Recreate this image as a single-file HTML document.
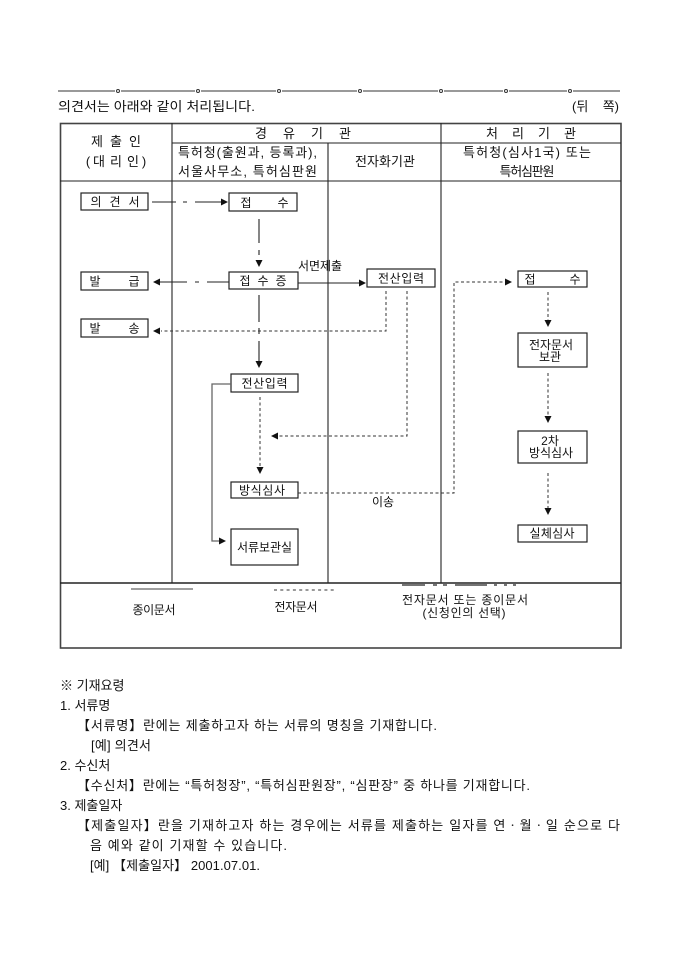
<!DOCTYPE html>
<html><head><meta charset="utf-8">
<style>
html,body{margin:0;padding:0;background:#fff;}
svg{display:block;}
text{font-family:"Liberation Sans","Noto Sans CJK KR","NanumGothic",sans-serif;fill:#111;}
</style></head>
<body>
<svg width="680" height="962" viewBox="0 0 680 962" xmlns="http://www.w3.org/2000/svg">
<rect width="680" height="962" fill="#fff"/>

<!-- top cut line -->
<g stroke="#333" stroke-width="1" fill="none">
<path d="M58 91H115M121 91H195M201 91H276M282 91H357M363 91H438M444 91H503M509 91H567M573 91H620"/>
<circle cx="118" cy="91" r="1.5"/><circle cx="198" cy="91" r="1.5"/><circle cx="279" cy="91" r="1.5"/>
<circle cx="360" cy="91" r="1.5"/><circle cx="441" cy="91" r="1.5"/><circle cx="506" cy="91" r="1.5"/><circle cx="570" cy="91" r="1.5"/>
</g>

<text x="58" y="111" font-size="13" textLength="197" lengthAdjust="spacingAndGlyphs">의견서는 아래와 같이 처리됩니다.</text>
<text x="572" y="111" font-size="13">(뒤</text>
<text x="619" y="111" font-size="13" text-anchor="end">쪽)</text>

<!-- table -->
<rect x="60.5" y="123.5" width="560.5" height="524.5" fill="none" stroke="#444" stroke-width="1.6"/>
<g stroke="#222" stroke-width="1.1">
<path d="M172 123V583"/>
<path d="M441 123V583"/>
<path d="M328 143V583"/>
<path d="M172 143H621"/>
<path d="M60 181H621"/>
<path d="M60 583H621" stroke-width="1.4"/>
</g>

<!-- headers -->
<g font-size="13" text-anchor="middle">
<text x="97" y="146">제</text><text x="116" y="146">출</text><text x="135" y="146">인</text>
<text x="88" y="166">(</text><text x="99" y="166">대</text><text x="116" y="166">리</text><text x="133" y="166">인</text><text x="144" y="166">)</text>
<text x="261" y="138">경</text><text x="289" y="138">유</text><text x="317" y="138">기</text><text x="345" y="138">관</text>
<text x="492" y="138">처</text><text x="518" y="138">리</text><text x="544" y="138">기</text><text x="570" y="138">관</text>
<text x="385" y="166" textLength="60">전자화기관</text>
<text x="527" y="157" textLength="128">특허청(심사1국) 또는</text>
<text x="527" y="176" textLength="55">특허심판원</text>
</g>
<text x="178" y="157" font-size="13" textLength="139">특허청(출원과, 등록과),</text>
<text x="178" y="176" font-size="13" textLength="139">서울사무소, 특허심판원</text>

<!-- boxes -->
<g fill="#fff" stroke="#222" stroke-width="1.2">
<rect x="81" y="193" width="67" height="17"/>
<rect x="229" y="193" width="68" height="18"/>
<rect x="229" y="272" width="69" height="17"/>
<rect x="81" y="272" width="67" height="18"/>
<rect x="81" y="319" width="67" height="18"/>
<rect x="367" y="269" width="68" height="18"/>
<rect x="231" y="374" width="67" height="18"/>
<rect x="231" y="482" width="67" height="16"/>
<rect x="231" y="529" width="67" height="36"/>
<rect x="518" y="271" width="69" height="16"/>
<rect x="518" y="333" width="69" height="34"/>
<rect x="518" y="431" width="69" height="32"/>
<rect x="518" y="525" width="69" height="17"/>
</g>

<!-- box labels -->
<g font-size="12" text-anchor="middle">
<text x="96" y="206">의</text><text x="115" y="206">견</text><text x="134" y="206">서</text>
<text x="246" y="207">접</text><text x="283" y="207">수</text>
<text x="245" y="285">접</text><text x="263" y="285">수</text><text x="281" y="285">증</text>
<text x="95" y="285.5">발</text><text x="134" y="285.5">급</text>
<text x="95" y="332.5">발</text><text x="134" y="332.5">송</text>
<text x="401" y="282.5" textLength="46">전산입력</text>
<text x="264.5" y="387.5" textLength="46">전산입력</text>
<text x="262" y="494.5" textLength="46">방식심사</text>
<text x="264.5" y="551.5" textLength="55">서류보관실</text>
<text x="530" y="283.5">접</text><text x="575" y="283.5">수</text>
<text x="551" y="349" textLength="44">전자문서</text>
<text x="550" y="361" textLength="22">보관</text>
<text x="550" y="445">2차</text>
<text x="551" y="457" textLength="44">방식심사</text>
<text x="552" y="537.5" textLength="45">실체심사</text>
<text x="298" y="270" font-size="12" text-anchor="start" textLength="44">서면제출</text>
<text x="383" y="506">이송</text>
</g>

<!-- solid / dash-dot connectors -->
<g stroke="#222" stroke-width="1.1" fill="none">
<path d="M152 202H176M183 202H187M195 202H221"/>
<path d="M259 219V243M259 250V255"/>
<path d="M160 282H187M195 282H199M207 282H229"/>
<path d="M298 283H359"/>
<path d="M259 295V322M259 328V334M259 341V361"/>
</g>
<path d="M231 384H212V541H219" stroke="#666" stroke-width="1.3" fill="none"/>

<!-- dotted connectors -->
<g stroke="#333" stroke-width="1" fill="none" stroke-dasharray="3 2.5">
<path d="M386 291V331H161"/>
<path d="M407 291V436H278"/>
<path d="M260 397V467"/>
<path d="M298 493H454V282H505"/>
<path d="M548 292V320"/>
<path d="M548 373V416"/>
<path d="M548 473V508"/>
</g>

<!-- arrowheads -->
<g fill="#111">
<polygon points="228,202 221,198.5 221,205.5"/>
<polygon points="259,267 255.5,260 262.5,260"/>
<polygon points="153,282 160,278.5 160,285.5"/>
<polygon points="366,283 359,279.5 359,286.5"/>
<polygon points="259,368 255.5,361 262.5,361"/>
<polygon points="153,331 160,327.5 160,334.5"/>
<polygon points="271,436 278,432.5 278,439.5"/>
<polygon points="260,474 256.5,467 263.5,467"/>
<polygon points="512,282 505,278.5 505,285.5"/>
<polygon points="548,327 544.5,320 551.5,320"/>
<polygon points="548,423 544.5,416 551.5,416"/>
<polygon points="548,515 544.5,508 551.5,508"/>
<polygon points="226,541 219,537.5 219,544.5"/>
</g>

<!-- legend -->
<path d="M131 589H193" stroke="#666" stroke-width="1.3"/>
<path d="M274 590H337" stroke="#333" stroke-width="1" stroke-dasharray="3 3.3"/>
<path d="M402 585H425M433 585H437M443 585H447M455 585H487M494 585H497M504 585H507M513 585H516" stroke="#222" stroke-width="1.3"/>
<g font-size="12" text-anchor="middle">
<text x="154" y="614" textLength="43">종이문서</text>
<text x="296" y="611" textLength="43">전자문서</text>
<text x="465" y="604" textLength="126">전자문서 또는 종이문서</text>
<text x="464" y="617" textLength="83">(신청인의 선택)</text>
</g>

<!-- instructions -->
<g font-size="13">
<text x="60" y="690">※ 기재요령</text>
<text x="60" y="710">1. 서류명</text>
<text x="77" y="730" textLength="360">【서류명】란에는 제출하고자 하는 서류의 명칭을 기재합니다.</text>
<text x="91" y="750" textLength="60">[예] 의견서</text>
<text x="60" y="770">2. 수신처</text>
<text x="77" y="790" textLength="453">【수신처】란에는 “특허청장”, “특허심판원장”, “심판장” 중 하나를 기재합니다.</text>
<text x="60" y="810">3. 제출일자</text>
<text x="77" y="830" textLength="543">【제출일자】란을 기재하고자 하는 경우에는 서류를 제출하는 일자를 연ㆍ월ㆍ일 순으로 다</text>
<text x="90" y="850" textLength="197">음 예와 같이 기재할 수 있습니다.</text>
<text x="90" y="870" textLength="170">[예] 【제출일자】 2001.07.01.</text>
</g>
</svg>
</body></html>
